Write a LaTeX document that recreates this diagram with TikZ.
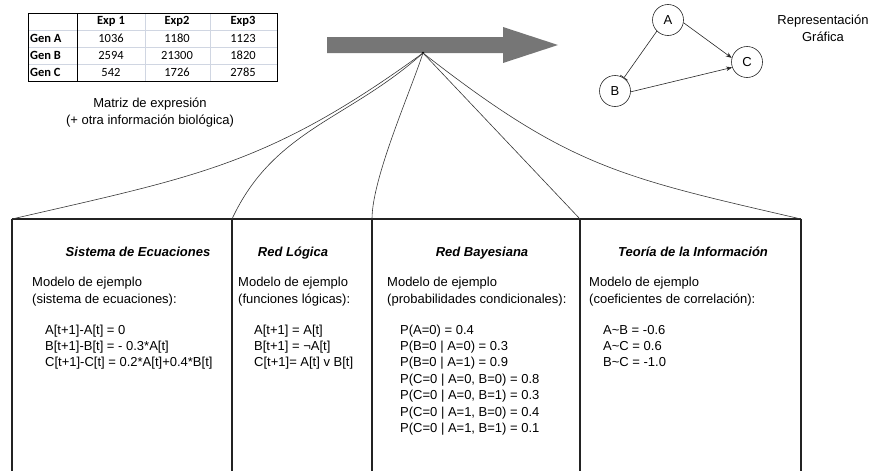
\documentclass[tikz,border=0pt]{standalone}
\usepackage{fontspec}
\setmainfont{Liberation Sans}
\newfontfamily\tablefont{Carlito}
\usetikzlibrary{arrows.meta,positioning}
\definecolor{arrowgray}{RGB}{118,118,118}
\definecolor{gridline}{RGB}{208,214,226}
\definecolor{boxline}{RGB}{35,35,35}
\definecolor{fanline}{RGB}{55,55,55}

\tikzset{
  tabhead/.style={font=\tablefont\fontsize{12.5}{14}\selectfont\bfseries, inner sep=0pt},
  tabgene/.style={font=\tablefont\fontsize{12.5}{14}\selectfont\bfseries, inner sep=0pt, anchor=west},
  tabval/.style={font=\tablefont\fontsize{12.5}{14}\selectfont, inner sep=0pt},
  caption/.style={font=\fontsize{13}{17}\selectfont, align=center, inner sep=0pt},
  gene/.style={circle, draw=black!85, line width=0.6pt, minimum size=31pt, inner sep=0pt, font=\fontsize{13}{15}\selectfont},
  act/.style={draw=black!85, line width=0.6pt, -{Stealth[length=6pt,width=4.5pt]}},
  inh/.style={draw=black!85, line width=0.6pt, -{Bar[width=9pt]}},
  boxline/.style={draw=boxline, line width=1.2pt},
  fan/.style={draw=fanline, line width=0.6pt},
  title/.style={font=\fontsize{13}{15}\selectfont\bfseries\itshape, inner sep=0pt, anchor=base},
  body/.style={font=\fontsize{13}{15}\selectfont, inner sep=0pt, anchor=base west}
}

\begin{document}
\begin{tikzpicture}[x=1pt,y=1pt]
  \useasboundingbox (0,0) rectangle (873,-471);

  % Expression matrix
  \foreach \y in {30,47,64} \draw[gridline, line width=0.6pt] (28,-\y) -- (277,-\y);
  \foreach \x in {145,210} \draw[gridline, line width=0.6pt] (\x,-13) -- (\x,-81);
  \draw[line width=0.9pt] (28,-13) rectangle (277,-81);
  \draw[line width=0.9pt] (77,-13) -- (77,-81);
  \node[tabhead] (exp1) at (111,-21.5) {Exp 1};
  \node[tabhead] (exp2) at (177,-21.5) {Exp2};
  \node[tabhead] (exp3) at (243,-21.5) {Exp3};
  \foreach \g/\a/\b/\c [count=\r] in {A/1036/1180/1123, B/2594/21300/1820, C/542/1726/2785} {
    \node[tabgene] (gen\g) at (30,-21.5-17*\r) {Gen \g};
    \node[tabval] (val\g1) at (111,-21.5-17*\r) {\a};
    \node[tabval] (val\g2) at (177,-21.5-17*\r) {\b};
    \node[tabval] (val\g3) at (243,-21.5-17*\r) {\c};
  }
  \node[caption] (matrix) at (150,-112.5) {Matriz de expresión\\(+ otra información biológica)};

  % Big arrow
  \fill[arrowgray] (327,-37) -- (503,-37) -- (503,-27) -- (558,-45) -- (503,-63) -- (503,-53) -- (327,-53) -- cycle;
  \coordinate (hub) at (423,-53);
  \fill[black] (hub) circle (1.3);

  % Graphical representation
  \node[gene] (A) at (668,-20) {A};
  \node[gene] (B) at (615,-91) {B};
  \node[gene] (C) at (747,-62) {C};
  \draw[act] (A.-10) -- (C.165);
  \draw[act] (B.-3) -- (C.200);
  \draw[inh] (A.-135) -- (B.56);
  \node[caption] (graph) at (823,-28.5) {Representación\\Gráfica};

  % Model boxes
  \coordinate (k0) at (12,-219);
  \coordinate (k1) at (232,-219);
  \coordinate (k2) at (372,-219);
  \coordinate (k3) at (580,-219);
  \coordinate (k4) at (801,-219);
  \draw[boxline] (k0) -- (k4);
  \foreach \k in {0,...,4} \draw[boxline] (k\k) -- ++(0,-254);

  % Fan of curves
  \draw[fan] (hub) to[out=216,in=13,looseness=1.1] (k0);
  \draw[fan] (hub) to[out=222,in=65] (k1);
  \draw[fan] (hub) to[out=252,in=90,looseness=0.6] (k2);
  \draw[fan] (hub) -- (k3);
  \draw[fan] (hub) to[out=-38,in=167,looseness=1.15] (k4);

  % Sistema de Ecuaciones
  \node[title] (t1) at (138,-256) {Sistema de Ecuaciones};
  \node[body] (m1) at (32,-286) {Modelo de ejemplo};
  \node[body] (d1) at (32,-303) {(sistema de ecuaciones):};
  \foreach \txt [count=\i from 0] in {{A[t+1]-A[t] = 0}, {B[t+1]-B[t] = - 0.3*A[t]}, {C[t+1]-C[t] = 0.2*A[t]+0.4*B[t]}}
    \node[body] (e\i) at (45,-334-16.4*\i) {\txt};

  % Red Logica
  \node[title] (t2) at (293,-256) {Red Lógica};
  \node[body] (m2) at (238,-286) {Modelo de ejemplo};
  \node[body] (d2) at (238,-303) {(funciones lógicas):};
  \foreach \txt [count=\i from 0] in {{A[t+1] = A[t]}, {B[t+1] = ¬A[t]}, {C[t+1]= A[t] v B[t]}}
    \node[body] (l\i) at (254,-334-16.4*\i) {\txt};

  % Red Bayesiana
  \node[title] (t3) at (482,-256) {Red Bayesiana};
  \node[body] (m3) at (387,-286) {Modelo de ejemplo};
  \node[body] (d3) at (387,-303) {(probabilidades condicionales):};
  \foreach \txt [count=\i from 0] in {{P(A=0) = 0.4}, {P(B=0 | A=0) = 0.3}, {P(B=0 | A=1) = 0.9}, {P(C=0 | A=0, B=0) = 0.8}, {P(C=0 | A=0, B=1) = 0.3}, {P(C=0 | A=1, B=0) = 0.4}, {P(C=0 | A=1, B=1) = 0.1}}
    \node[body] (p\i) at (400,-334-16.4*\i) {\txt};

  % Teoria de la Informacion
  \node[title] (t4) at (693,-256) {Teoría de la Información};
  \node[body] (m4) at (589,-286) {Modelo de ejemplo};
  \node[body] (d4) at (589,-303) {(coeficientes de correlación):};
  \foreach \txt [count=\i from 0] in {{A\textasciitilde B = -0.6}, {A\textasciitilde C = 0.6}, {B\textasciitilde C = -1.0}}
    \node[body] (c\i) at (603,-334-16.4*\i) {\txt};
\end{tikzpicture}
\end{document}
